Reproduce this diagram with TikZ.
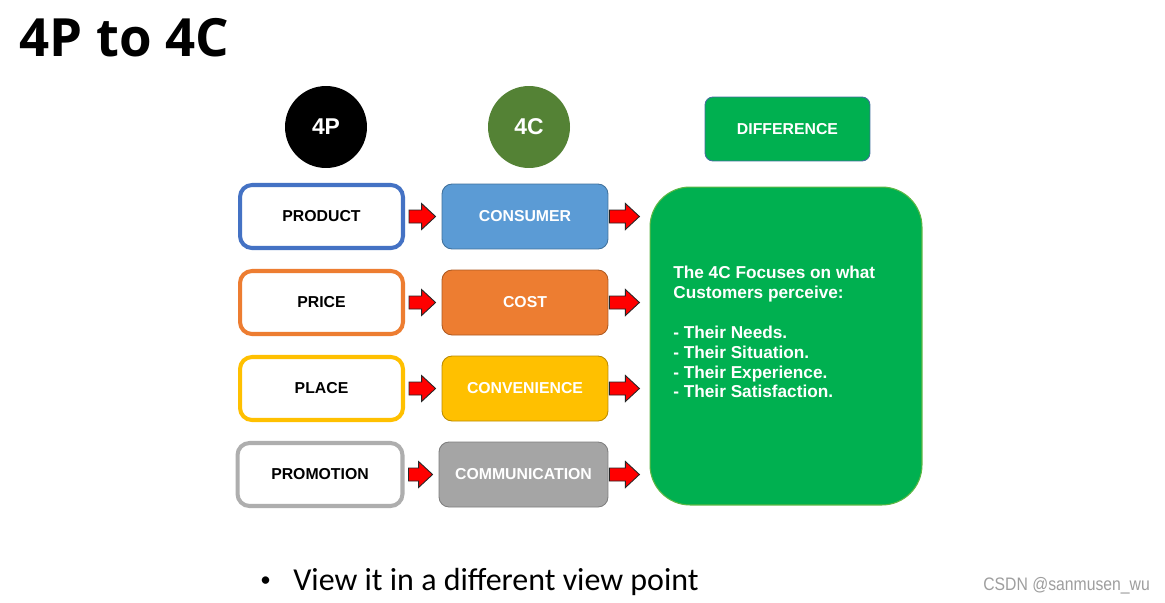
\documentclass[tikz,border=0pt]{standalone}
\usepackage{fontspec}
\setmainfont{Liberation Sans}
\newfontfamily\titlefont{Open Sans}
\newfontfamily\bodyfont{Carlito}
\newfontfamily\markfont[FakeStretch=0.87]{Liberation Sans}
\usetikzlibrary{calc}
\definecolor{pblue}{HTML}{4472C4}
\definecolor{cblue}{HTML}{5B9BD5}
\definecolor{cbluedk}{HTML}{41719C}
\definecolor{porange}{HTML}{ED7D31}
\definecolor{corangedk}{HTML}{AE5A21}
\definecolor{pyellow}{HTML}{FFC000}
\definecolor{cyellowdk}{HTML}{BC8C00}
\definecolor{pgray}{HTML}{A5A5A5}
\definecolor{cgraydk}{HTML}{7F7F7F}
\definecolor{dgreen}{HTML}{00B050}
\definecolor{fourc}{HTML}{548235}
\definecolor{biggreenedge}{HTML}{5DB844}
\definecolor{arrred}{HTML}{FF0000}
\tikzset{
  pbox/.style={draw, line width=2.3pt, rounded corners=0.24cm, fill=white,
    minimum width=3.26cm, minimum height=1.26cm, font=\bfseries\fontsize{9}{11}\selectfont, text=black},
  cbox/.style={line width=0.5pt, rounded corners=0.2cm,
    minimum width=3.32cm, minimum height=1.3cm, font=\bfseries\fontsize{9}{11}\selectfont, text=white},
  circ/.style={circle, minimum size=1.64cm, inner sep=0pt, text=white, font=\bfseries\fontsize{13}{15}\selectfont},
  barrow/.style={fill=arrred, draw=black!85, line width=0.5pt, line join=miter},
}
\newcommand\blockarrow[2]{%
  \path[barrow] ($(#1)+(0,-6.5)$) -- ($(#2)+(-14,-6.5)$) -- ($(#2)+(-14,-13)$) -- (#2)
    -- ($(#2)+(-14,13)$) -- ($(#2)+(-14,6.5)$) -- ($(#1)+(0,6.5)$) -- cycle;}
\begin{document}
\begin{tikzpicture}[x=0.02cm, y=-0.02cm]
\useasboundingbox[fill=white] (0,0) rectangle (1165,602);
% title
\node[anchor=base west, inner sep=0pt, font=\titlefont\bfseries\fontsize{30}{34}\selectfont] (title) at (19,56) {4P to 4C};
% headers
\node[circ, fill=black] (h4p) at (326,127) {4P};
\node[circ, fill=fourc] (h4c) at (529,127) {4C};
\node[cbox, fill=dgreen, draw=cbluedk, minimum width=3.3cm, minimum height=1.28cm, rounded corners=0.16cm] (diff) at (787.5,129) {DIFFERENCE};
% 4P boxes
\node[pbox, draw=pblue] (p1) at (321.5,216.5) {PRODUCT};
\node[pbox, draw=porange] (p2) at (321.5,302.5) {PRICE};
\node[pbox, draw=pyellow] (p3) at (321.5,388.5) {PLACE};
\node[pbox, draw=pgray!90!white, minimum width=3.3cm] (p4) at (320,474.5) {PROMOTION};
% 4C boxes
\node[cbox, fill=cblue, draw=cbluedk] (c1) at (525,216.5) {CONSUMER};
\node[cbox, fill=porange, draw=corangedk] (c2) at (525,302.5) {COST};
\node[cbox, fill=pyellow, draw=cyellowdk] (c3) at (525,388.5) {CONVENIENCE};
\node[cbox, fill=pgray, draw=cgraydk, minimum width=3.38cm] (c4) at (523.5,474.5) {COMMUNICATION};
% big box
\node[fill=dgreen, draw=biggreenedge, line width=0.6pt, rounded corners=0.8cm,
  minimum width=5.44cm, minimum height=6.36cm] (big) at (786,346) {};
\node[anchor=north west, inner sep=0pt, align=left, text=white,
  font=\bfseries\fontsize{9.8}{11.3}\selectfont] (bigtext) at (673,266)
  {The 4C Focuses on what\\Customers perceive:\\[11.3pt]- Their Needs.\\- Their Situation.\\- Their Experience.\\- Their Satisfaction.};
% arrows
\foreach \i in {1,2,3,4}{
  \coordinate (la\i) at ($(p\i.east)+(4,0)$);
  \coordinate (lb\i) at ($(c\i.west)+(-6,0)$);
  \blockarrow{la\i}{lb\i}
  \coordinate (ra\i) at ($(c\i.east)+(1,0)$);
  \coordinate (rb\i) at ($(c\i.east)+(31,0)$);
  \blockarrow{ra\i}{rb\i}
}
% bullet
\node[anchor=center, inner sep=0pt, font=\bodyfont\fontsize{12}{14}\selectfont] (bullet) at (265.5,582) {\textbullet};
\node[anchor=base west, inner sep=0pt, font=\bodyfont\fontsize{18.2}{21}\selectfont] (note) at (293,590) {View it in a different view point};
% watermark
\node[anchor=base west, inner sep=0pt, text=black!38, font=\markfont\fontsize{10.3}{12}\selectfont] (mark) at (983,590) {CSDN @sanmusen\_wu};
\end{tikzpicture}
\end{document}
